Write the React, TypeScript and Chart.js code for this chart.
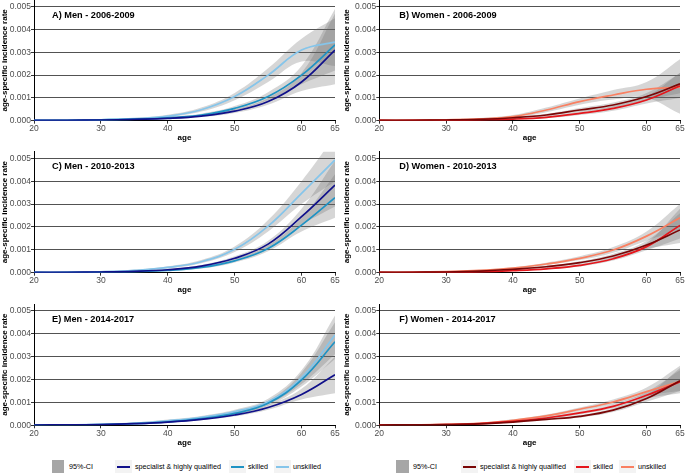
import React, { useEffect, useRef } from 'react';
import { Chart, registerables } from 'chart.js';
Chart.register(...registerables);

// ---------- data ----------
const ages = [20, 25, 30, 35, 40, 45, 50, 55, 60, 65];
const xTicks = [20, 30, 40, 50, 60, 65];
const yTicks = [0, 0.001, 0.002, 0.003, 0.004, 0.005];

// A) Men 2006-2009
const aSpec = [0.00001, 0.00002, 0.00003, 0.00006, 0.0001, 0.0002, 0.00042, 0.00084, 0.0017, 0.0031];
const aSkill = [0.00001, 0.00002, 0.00004, 0.00007, 0.00013, 0.00025, 0.00054, 0.00106, 0.002, 0.00333];
const aUnsk = [0.00001, 0.00002, 0.00004, 0.00009, 0.0002, 0.00048, 0.00106, 0.002, 0.0031, 0.00345];
const aSpecLo = [0, 0.00001, 0.00002, 0.00004, 0.00008, 0.00016, 0.00034, 0.0007, 0.0013, 0.0016];
const aSpecHi = [0.00003, 0.00004, 0.00005, 0.00008, 0.00013, 0.00025, 0.0005, 0.001, 0.0021, 0.0047];
const aSkillLo = [0, 0.00001, 0.00002, 0.00005, 0.0001, 0.0002, 0.00045, 0.0009, 0.0016, 0.0022];
const aSkillHi = [0.00003, 0.00004, 0.00006, 0.0001, 0.00017, 0.00031, 0.00064, 0.00125, 0.0024, 0.0049];
const aUnskLo = [0, 0.00001, 0.00002, 0.00006, 0.00015, 0.0004, 0.0009, 0.0017, 0.0026, 0.0024];
const aUnskHi = [0.00003, 0.00004, 0.00006, 0.00012, 0.00026, 0.00058, 0.00122, 0.0023, 0.0036, 0.0045];

// B) Women 2006-2009
const bSpec = [0.00001, 0.00002, 0.00003, 0.00006, 0.00013, 0.00025, 0.00047, 0.00069, 0.00106, 0.00162];
const bSkill = [0.00001, 0.00001, 0.00002, 0.00004, 0.00007, 0.00015, 0.00032, 0.00054, 0.00091, 0.00153];
const bUnsk = [0.00001, 0.00002, 0.00004, 0.00008, 0.00018, 0.00047, 0.00084, 0.00113, 0.00138, 0.00147];
const bSpecLo = [0, 0.00001, 0.00002, 0.00004, 0.0001, 0.0002, 0.00039, 0.00058, 0.0009, 0.0012];
const bSpecHi = [0.00002, 0.00003, 0.00005, 0.00008, 0.00016, 0.0003, 0.00056, 0.0008, 0.00122, 0.0021];
const bSkillLo = [0, 0, 0.00001, 0.00002, 0.00005, 0.00011, 0.00025, 0.00044, 0.00076, 0.001];
const bSkillHi = [0.00002, 0.00003, 0.00004, 0.00006, 0.0001, 0.0002, 0.0004, 0.00065, 0.00108, 0.0021];
const bUnskLo = [0, 0.00001, 0.00002, 0.00005, 0.00013, 0.00037, 0.0007, 0.00093, 0.001, 0.0003];
const bUnskHi = [0.00003, 0.00004, 0.00006, 0.00012, 0.00025, 0.00058, 0.00098, 0.00135, 0.0017, 0.0027];

// C) Men 2010-2013
const cSpec = [0.00001, 0.00002, 0.00003, 0.00006, 0.00013, 0.00029, 0.00063, 0.00125, 0.00245, 0.00383];
const cSkill = [0.00001, 0.00001, 0.00003, 0.00005, 0.0001, 0.00023, 0.00052, 0.00106, 0.00208, 0.00328];
const cUnsk = [0.00001, 0.00002, 0.00004, 0.0001, 0.00023, 0.00048, 0.00102, 0.00204, 0.00347, 0.00493];
const cSpecLo = [0, 0.00001, 0.00002, 0.00004, 0.0001, 0.00024, 0.00055, 0.0011, 0.0021, 0.0029];
const cSpecHi = [0.00002, 0.00003, 0.00005, 0.00008, 0.00016, 0.00034, 0.00072, 0.0014, 0.0028, 0.0049];
const cSkillLo = [0, 0, 0.00001, 0.00003, 0.00007, 0.00018, 0.00045, 0.00094, 0.0018, 0.0024];
const cSkillHi = [0.00002, 0.00003, 0.00004, 0.00007, 0.00013, 0.00028, 0.0006, 0.0012, 0.0024, 0.0043];
const cUnskLo = [0, 0.00001, 0.00003, 0.00007, 0.00018, 0.00041, 0.0009, 0.0018, 0.003, 0.004];
const cUnskHi = [0.00003, 0.00004, 0.00006, 0.00013, 0.00028, 0.00056, 0.00115, 0.0023, 0.004, 0.006];

// D) Women 2010-2013
const dSpec = [0.00001, 0.00002, 0.00003, 0.00007, 0.00015, 0.00026, 0.00044, 0.00073, 0.00121, 0.00187];
const dSkill = [0.00001, 0.00001, 0.00002, 0.00004, 0.00009, 0.00017, 0.00032, 0.00061, 0.00114, 0.00207];
const dUnsk = [0.00001, 0.00002, 0.00005, 0.0001, 0.0002, 0.00038, 0.00063, 0.00099, 0.0016, 0.0024];
const dSpecLo = [0, 0.00001, 0.00002, 0.00005, 0.00012, 0.00022, 0.00038, 0.00064, 0.00104, 0.0013];
const dSpecHi = [0.00002, 0.00003, 0.00004, 0.00009, 0.00018, 0.0003, 0.0005, 0.00083, 0.0014, 0.0026];
const dSkillLo = [0, 0, 0.00001, 0.00003, 0.00007, 0.00014, 0.00027, 0.00053, 0.00098, 0.0015];
const dSkillHi = [0.00002, 0.00002, 0.00003, 0.00006, 0.00011, 0.0002, 0.00038, 0.0007, 0.0013, 0.0028];
const dUnskLo = [0, 0.00001, 0.00003, 0.00007, 0.00016, 0.00033, 0.00055, 0.00087, 0.0014, 0.0019];
const dUnskHi = [0.00002, 0.00003, 0.00007, 0.00013, 0.00024, 0.00044, 0.00072, 0.00112, 0.0018, 0.003];

// E) Men 2014-2017
const eSpec = [0.00001, 0.00002, 0.00003, 0.00007, 0.00014, 0.00026, 0.00045, 0.00078, 0.00135, 0.00221];
const eSkill = [0.00001, 0.00002, 0.00003, 0.00007, 0.00015, 0.00029, 0.00052, 0.00096, 0.00198, 0.00365];
const eUnsk = [0.00001, 0.00002, 0.00004, 0.00009, 0.0002, 0.00035, 0.0006, 0.00103, 0.00208, 0.00394];
const eSpecLo = [0, 0.00001, 0.00002, 0.00005, 0.00011, 0.00022, 0.00039, 0.00068, 0.00113, 0.0014];
const eSpecHi = [0.00002, 0.00003, 0.00005, 0.00009, 0.00017, 0.0003, 0.00052, 0.0009, 0.0016, 0.003];
const eSkillLo = [0, 0.00001, 0.00002, 0.00005, 0.00012, 0.00025, 0.00046, 0.00086, 0.0017, 0.0029];
const eSkillHi = [0.00002, 0.00003, 0.00005, 0.0001, 0.00018, 0.00033, 0.00058, 0.00107, 0.0023, 0.0045];
const eUnskLo = [0, 0.00001, 0.00003, 0.00006, 0.00016, 0.0003, 0.00053, 0.00092, 0.0018, 0.0031];
const eUnskHi = [0.00002, 0.00003, 0.00006, 0.00012, 0.00025, 0.00041, 0.00068, 0.00116, 0.0024, 0.0048];

// F) Women 2014-2017
const fSpec = [0.00001, 0.00002, 0.00003, 0.00006, 0.00014, 0.00026, 0.00039, 0.00066, 0.00117, 0.00195];
const fSkill = [0.00001, 0.00002, 0.00003, 0.00007, 0.00017, 0.00032, 0.00054, 0.00083, 0.00131, 0.0019];
const fUnsk = [0.00001, 0.00002, 0.00004, 0.00009, 0.00022, 0.00041, 0.0007, 0.00102, 0.00147, 0.00192];
const fSpecLo = [0, 0.00001, 0.00002, 0.00004, 0.00011, 0.00022, 0.00034, 0.00058, 0.00103, 0.0015];
const fSpecHi = [0.00002, 0.00003, 0.00004, 0.00008, 0.00017, 0.0003, 0.00045, 0.00075, 0.00132, 0.0025];
const fSkillLo = [0, 0.00001, 0.00002, 0.00005, 0.00014, 0.00027, 0.00047, 0.00074, 0.00117, 0.0014];
const fSkillHi = [0.00002, 0.00003, 0.00004, 0.00009, 0.0002, 0.00037, 0.00061, 0.00093, 0.00146, 0.0024];
const fUnskLo = [0, 0.00001, 0.00003, 0.00007, 0.00018, 0.00036, 0.00062, 0.00092, 0.0013, 0.0015];
const fUnskHi = [0.00002, 0.00003, 0.00005, 0.00011, 0.00026, 0.00047, 0.00078, 0.00113, 0.00165, 0.0026];

const seriesNames = ['specialist & highly qualified', 'skilled', 'unskilled'];
const menColors = ['#10108a', '#1f93c4', '#86c5ea'];
const womenColors = ['#7a0606', '#e5161c', '#f98062'];
const ciFill = 'rgba(105,105,105,0.27)';
const ciLegend = '#a6a6a6';

const FONT = '"Liberation Sans", Arial, Helvetica, sans-serif';

type PanelProps = {
  title: string;
  lines: number[][];
  los: number[][];
  his: number[][];
  colors: string[];
  left: number;
  top: number;
  width: number;
  height: number;
  yAxisW: number;
  padTop: number;
  padRight: number;
  areaH: number;
};

const panelTitlePlugin = {
  id: 'panelTitle',
  afterDraw(chart: any, _args: any, opts: any) {
    const ctx = chart.ctx;
    const y = chart.scales.y.getPixelForValue(0.005) + 8.5;
    ctx.save();
    ctx.font = `bold 9.2px ${FONT}`;
    ctx.fillStyle = '#000';
    ctx.textBaseline = 'middle';
    ctx.textAlign = 'left';
    ctx.fillText(opts.text, chart.chartArea.left + opts.dx, y);
    ctx.restore();
  },
};

function Panel(p: PanelProps) {
  const ref = useRef<HTMLCanvasElement | null>(null);
  useEffect(() => {
    if (!ref.current) return;
    const datasets: any[] = [];
    p.lines.forEach((line, i) => {
      datasets.push({
        label: seriesNames[i],
        data: ages.map((a, k) => ({ x: a, y: line[k] })),
        borderColor: p.colors[i],
        borderWidth: 1.7,
        pointRadius: 0,
        fill: false,
        tension: 0.4,
        order: i,
      });
    });
    p.los.forEach((lo, i) => {
      datasets.push({
        label: 'lo' + i,
        data: ages.map((a, k) => ({ x: a, y: lo[k] })),
        borderColor: 'transparent',
        borderWidth: 0,
        pointRadius: 0,
        fill: false,
        tension: 0.4,
        order: 10,
      });
      datasets.push({
        label: 'hi' + i,
        data: ages.map((a, k) => ({ x: a, y: p.his[i][k] })),
        borderColor: 'transparent',
        borderWidth: 0,
        pointRadius: 0,
        fill: '-1',
        backgroundColor: ciFill,
        tension: 0.4,
        order: 10,
      });
    });
    const xh = p.height - p.padTop - p.areaH;
    const chart = new Chart(ref.current, {
      type: 'line',
      data: { datasets },
      plugins: [panelTitlePlugin],
      options: {
        animation: false,
        responsive: false,
        maintainAspectRatio: false,
        devicePixelRatio: 1,
        layout: { padding: { left: 0, top: p.padTop, right: p.padRight, bottom: 0 } },
        plugins: {
          legend: { display: false },
          tooltip: { enabled: false },
          filler: { drawTime: 'beforeDatasetsDraw' },
          panelTitle: { text: p.title, dx: p.left < 100 ? 18 : 20 },
        } as any,
        scales: {
          x: {
            type: 'linear',
            min: 20,
            max: 65,
            afterBuildTicks: (s: any) => { s.ticks = xTicks.map((v) => ({ value: v })); },
            afterFit: (s: any) => {
              s.height = xh;
              s.paddingLeft = 0; s.paddingRight = 0; s.paddingTop = 0; s.paddingBottom = 0;
            },
            ticks: {
              autoSkip: false,
              maxRotation: 0,
              padding: 0,
              color: '#4d4d4d',
              font: { family: FONT, size: 8.5 },
              callback: (v: any) => String(v),
            },
            grid: { drawOnChartArea: false, drawTicks: true, tickLength: 3, color: '#333' },
            border: { display: true, color: '#000', width: 1 },
            title: { display: true, text: 'age', color: '#000', padding: 0, font: { family: FONT, size: 8, weight: 'bold' } },
          },
          y: {
            type: 'linear',
            min: 0,
            max: 0.0053,
            afterBuildTicks: (s: any) => { s.ticks = yTicks.map((v) => ({ value: v })); },
            afterFit: (s: any) => {
              s.width = p.yAxisW;
              s.paddingLeft = 0; s.paddingRight = 0; s.paddingTop = 0; s.paddingBottom = 0;
            },
            ticks: {
              padding: 0,
              color: '#4d4d4d',
              font: { family: FONT, size: 8.5 },
              callback: (v: any) => Number(v).toFixed(3),
            },
            grid: { color: 'rgba(0,0,0,0.68)', lineWidth: 1, drawTicks: true, tickLength: 3, tickColor: '#333' },
            border: { display: true, color: '#000', width: 1 },
            title: {
              display: true,
              text: 'age-specific incidence rate',
              color: '#000',
              padding: 0,
              font: { family: FONT, size: 8, weight: 'bold' },
            },
          },
        },
      } as any,
    });
    return () => chart.destroy();
  }, []);
  return (
    <canvas
      ref={ref}
      width={p.width}
      height={p.height}
      style={{ position: 'absolute', left: p.left, top: p.top, width: p.width, height: p.height }}
    />
  );
}

type LegendItem = { kind: 'box' | 'line'; x: number; w: number; color: string; label: string; tx: number };

function Legend({ items }: { items: LegendItem[] }) {
  const cy = 466.5;
  return (
    <>
      {items.map((it, i) => (
        <React.Fragment key={i}>
          {it.kind === 'box' ? (
            <div style={{ position: 'absolute', left: it.x, top: 460, width: it.w, height: 13, background: it.color }} />
          ) : (
            <>
              <div style={{ position: 'absolute', left: it.x - 2, top: 460, width: it.w + 4, height: 13, background: '#f3f3f3' }} />
              <div style={{ position: 'absolute', left: it.x, top: cy - 1, width: it.w, height: 2, background: it.color }} />
            </>
          )}
          <div
            style={{
              position: 'absolute',
              left: it.tx,
              top: cy - 5,
              height: 10,
              lineHeight: '10px',
              fontSize: '7.2px',
              fontFamily: FONT,
              color: '#000',
              whiteSpace: 'nowrap',
            }}
          >
            {it.label}
          </div>
        </React.Fragment>
      ))}
    </>
  );
}

export default function App() {
  const colL = { left: 0, width: 340, yAxisW: 34, padRight: 5 };
  const colR = { left: 342, width: 343, yAxisW: 37.3, padRight: 5 };
  const rows = [
    { top: 0, padTop: 0, areaH: 120.7, height: 143 },
    { top: 151, padTop: 0.5, areaH: 121.2, height: 144 },
    { top: 304, padTop: 0, areaH: 121.3, height: 144 },
  ];
  const panels = [
    { title: 'A) Men - 2006-2009', col: colL, row: rows[0], lines: [aSpec, aSkill, aUnsk], los: [aSpecLo, aSkillLo, aUnskLo], his: [aSpecHi, aSkillHi, aUnskHi], colors: menColors },
    { title: 'B) Women - 2006-2009', col: colR, row: rows[0], lines: [bSpec, bSkill, bUnsk], los: [bSpecLo, bSkillLo, bUnskLo], his: [bSpecHi, bSkillHi, bUnskHi], colors: womenColors },
    { title: 'C) Men - 2010-2013', col: colL, row: rows[1], lines: [cSpec, cSkill, cUnsk], los: [cSpecLo, cSkillLo, cUnskLo], his: [cSpecHi, cSkillHi, cUnskHi], colors: menColors },
    { title: 'D) Women - 2010-2013', col: colR, row: rows[1], lines: [dSpec, dSkill, dUnsk], los: [dSpecLo, dSkillLo, dUnskLo], his: [dSpecHi, dSkillHi, dUnskHi], colors: womenColors },
    { title: 'E) Men - 2014-2017', col: colL, row: rows[2], lines: [eSpec, eSkill, eUnsk], los: [eSpecLo, eSkillLo, eUnskLo], his: [eSpecHi, eSkillHi, eUnskHi], colors: menColors },
    { title: 'F) Women - 2014-2017', col: colR, row: rows[2], lines: [fSpec, fSkill, fUnsk], los: [fSpecLo, fSkillLo, fUnskLo], his: [fSpecHi, fSkillHi, fUnskHi], colors: womenColors },
  ];
  const legendMen: LegendItem[] = [
    { kind: 'box', x: 52, w: 12, color: ciLegend, label: '95%-CI', tx: 69 },
    { kind: 'line', x: 117, w: 13, color: menColors[0], label: seriesNames[0], tx: 135 },
    { kind: 'line', x: 231, w: 13, color: menColors[1], label: seriesNames[1], tx: 248 },
    { kind: 'line', x: 276, w: 13, color: menColors[2], label: seriesNames[2], tx: 293 },
  ];
  const legendWomen: LegendItem[] = [
    { kind: 'box', x: 396, w: 13, color: ciLegend, label: '95%-CI', tx: 413 },
    { kind: 'line', x: 463, w: 13, color: womenColors[0], label: seriesNames[0], tx: 480 },
    { kind: 'line', x: 576, w: 13, color: womenColors[1], label: seriesNames[1], tx: 593 },
    { kind: 'line', x: 621, w: 13, color: womenColors[2], label: seriesNames[2], tx: 638 },
  ];
  return (
    <div style={{ position: 'absolute', left: 0, top: 0, width: 685, height: 474, background: '#fff', overflow: 'hidden' }}>
      {panels.map((pp, i) => (
        <Panel
          key={i}
          title={pp.title}
          lines={pp.lines}
          los={pp.los}
          his={pp.his}
          colors={pp.colors}
          left={pp.col.left}
          top={pp.row.top}
          width={pp.col.width}
          height={pp.row.height}
          yAxisW={pp.col.yAxisW}
          padTop={pp.row.padTop}
          padRight={pp.col.padRight}
          areaH={pp.row.areaH}
        />
      ))}
      <Legend items={legendMen} />
      <Legend items={legendWomen} />
    </div>
  );
}
